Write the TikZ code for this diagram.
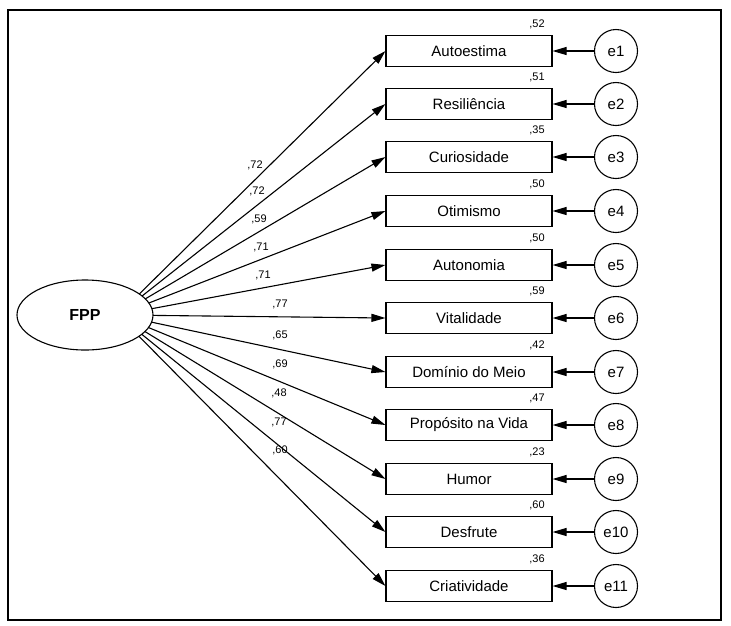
\documentclass[tikz,border=0pt]{standalone}
\usepackage{fontspec}
\setmainfont{Liberation Sans}
\usetikzlibrary{arrows.meta,shapes.geometric}
\begin{document}
\begin{tikzpicture}[x=1pt,y=-1pt,
  obs/.style={draw,line width=1.1pt,minimum width=166pt,minimum height=31pt,inner sep=0pt,font=\fontsize{15}{17}\selectfont},
  err/.style={draw,line width=1.1pt,circle,minimum size=43pt,inner sep=0pt,font=\fontsize{15}{17}\selectfont},
  arr/.style={line width=1.1pt,-{Triangle[length=14pt,width=8pt]}},
  lab/.style={font=\fontsize{11}{12}\selectfont,inner sep=0pt}]
\useasboundingbox (0,0) rectangle (731,625);
\draw[line width=1.1pt] (8,10) rectangle (721,620);
\coordinate (hub) at (118,315);
\foreach \i/\t/\y/\r/\l/\lx/\ly in {
 1/Autoestima/51/{,52}/{,72}/255/165,
 2/Resiliência/104/{,51}/{,72}/257/191,
 3/Curiosidade/157/{,35}/{,59}/259/219,
 4/Otimismo/211/{,50}/{,71}/261/247,
 5/Autonomia/265/{,50}/{,71}/263/275,
 6/Vitalidade/318/{,59}/{,77}/280/304,
 7/Domínio do Meio/372/{,42}/{,65}/280/335,
 8/Propósito na Vida/425/{,47}/{,69}/280/364,
 9/Humor/479/{,23}/{,48}/279/393,
 10/Desfrute/532/{,60}/{,77}/279/422,
 11/Criatividade/586/{,36}/{,60}/280/450}{
  \node[obs] (v\i) at (469,\y) {\t};
  \node[err] (e\i) at (616,\y) {e\i};
  \node[lab] (r\i) at (537,\y-27) {\r};
  \node[lab] (l\i) at (\lx,\ly) {\l};
  \draw[arr] (hub) -- (v\i.west);
  \draw[arr] (e\i) -- (v\i.east);
}
\node[draw,line width=1.1pt,fill=white,ellipse,minimum width=136pt,minimum height=70pt,font=\bfseries\fontsize{16}{18}\selectfont] (fpp) at (85,315) {FPP};
\end{tikzpicture}
\end{document}
